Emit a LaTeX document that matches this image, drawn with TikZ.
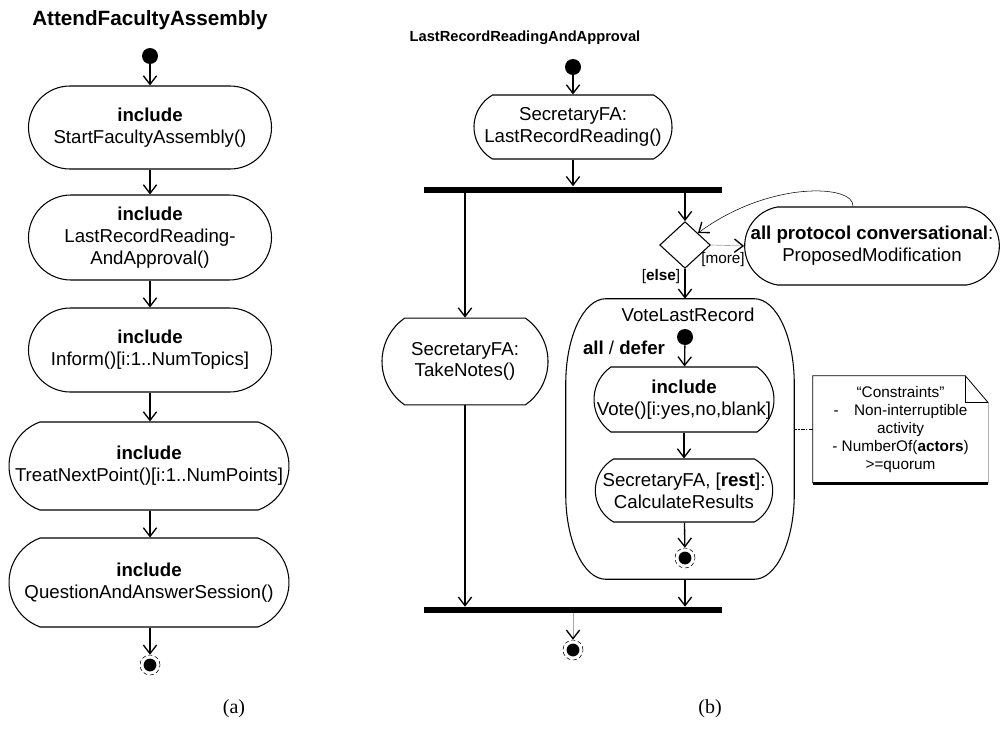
\documentclass[tikz,border=0pt]{standalone}
\usepackage{fontspec}
\setmainfont{Liberation Sans}
\newfontfamily\capfont{Liberation Serif}
\usetikzlibrary{arrows.meta,shapes.misc,shapes.geometric,calc}
\begin{document}
\begin{tikzpicture}[x=0.75pt,y=-0.75pt,
  every node/.style={inner sep=0pt},
  body/.style={font=\fontsize{14}{16.3}\selectfont},
  small/.style={font=\fontsize{11.5}{13.5}\selectfont},
  txt/.style={body, align=center},
  action/.style={draw, line width=0.8pt, rounded rectangle,
    rounded rectangle arc length=#1},
  action/.default=180,
  tip/.style={-{Straight Barb[length=6.5pt,width=10pt,line width=1pt,color=black]}},
  flow/.style={line width=1pt, tip},
  thinflow/.style={line width=0.5pt, draw=gray!70, tip},
  bar/.style={fill=black, rectangle, minimum width=223.5pt, minimum height=4.5pt},
  startnode/.style={circle, fill=black, minimum size=12pt},
  endnode/.style={circle, draw, densely dashed, line width=0.4pt, minimum size=15pt,
    path picture={\fill (path picture bounding box.center) circle (4.8pt);}},
]
\useasboundingbox (0,0) rectangle (1006,742);

% ---------------- (a) AttendFacultyAssembly ----------------
\node[font=\fontsize{15.5}{18}\selectfont\bfseries] (ttlA) at (150,20) {AttendFacultyAssembly};
\node[startnode] (a0) at (150,56) {};
\node[action, minimum width=182.25pt, minimum height=62.25pt,
  label={[txt]center:{\textbf{include}\\StartFacultyAssembly()}}] (a1) at (150,127.5) {};
\node[action, minimum width=182.25pt, minimum height=63.75pt,
  label={[txt]center:{\textbf{include}\\LastRecordReading-\\AndApproval()}}] (a2) at (150,237.5) {};
\node[action, minimum width=182.25pt, minimum height=63pt,
  label={[txt]center:{\textbf{include}\\Inform()[i:1..NumTopics]}}] (a3) at (150,350) {};
\node[action=140, minimum width=210pt, minimum height=66pt,
  label={[txt]center:{\textbf{include}\\TreatNextPoint()[i:1..NumPoints]}}] (a4) at (149,466) {};
\node[action=140, minimum width=210pt, minimum height=66.75pt,
  label={[txt]center:{\textbf{include}\\QuestionAndAnswerSession()}}] (a5) at (149,582.5) {};
\node[endnode] (af) at (150,665) {};

\draw[flow] (a0) -- (a1);
\draw[flow] (a1) -- (a2);
\draw[flow] (a2) -- (a3);
\draw[flow] (a3.south) -- (a3.south |- a4.north);
\draw[flow] (a4.south -| a3) -- (a3 |- a5.north);
\draw[flow] (a5.south -| a3) -- (af);

% ---------------- (b) LastRecordReadingAndApproval ----------------
\node[font=\fontsize{11}{14}\selectfont\bfseries] (ttlB) at (525,38) {LastRecordReadingAndApproval};
\node[startnode] (r0) at (573,67) {};
\node[action=120, minimum width=148.5pt, minimum height=48pt,
  label={[txt]center:{SecretaryFA:\\LastRecordReading()}}] (r1) at (573,127) {};
\node[bar] (fork) at (573,189.5) {};
\node[action=110, minimum width=124.5pt, minimum height=65pt,
  label={[txt]center:{SecretaryFA:\\TakeNotes()}}] (t) at (465,361.5) {};
\node[diamond, draw, line width=0.8pt, minimum width=38pt, minimum height=35pt] (d) at (685,245) {};
\node[action=160, minimum width=191pt, minimum height=58.5pt,
  label={[txt]center:{\textbf{all protocol conversational}:\\ProposedModification}}] (pm) at (872,246) {};

% region VoteLastRecord
\node[rectangle, minimum width=171pt, minimum height=210pt] (V) at (680,439) {};
\draw[line width=0.8pt]
  ([xshift=30pt]V.north west) -- ([xshift=-30pt]V.north east)
  arc[start angle=90, end angle=0, x radius=30pt, y radius=63.75pt]
  -- ([yshift=63.75pt]V.south east)
  arc[start angle=0, end angle=-90, x radius=30pt, y radius=63.75pt]
  -- ([xshift=30pt]V.south west)
  arc[start angle=270, end angle=180, x radius=30pt, y radius=63.75pt]
  -- ([yshift=-63.75pt]V.north west)
  arc[start angle=180, end angle=90, x radius=30pt, y radius=63.75pt] -- cycle;
\node[body] (vname) at (688,315) {VoteLastRecord};
\node[body] (vdefer) at (624,348) {\textbf{all} / \textbf{defer}};
\node[startnode] (v0) at (685,337) {};
\node[action=110, minimum width=135pt, minimum height=48.75pt,
  label={[txt]center:{\textbf{include}\\Vote()[i:yes,no,blank]}}] (vote) at (684,399.5) {};
\node[action=120, minimum width=133pt, minimum height=47.25pt,
  label={[txt]center:{SecretaryFA, [\textbf{rest}]:\\CalculateResults}}] (calc) at (684,490.5) {};
\node[endnode] (vf) at (685,558) {};

\node[bar] (join) at (573,610) {};
\node[endnode] (rf) at (573,650) {};

% constraints note
\node[rectangle, minimum width=131.25pt, minimum height=80.25pt, small, align=center]
  (note) at (900.5,429.5)
  {“Constraints”\\-\quad Non-interruptible\\activity\\- NumberOf(\textbf{actors})\\>=quorum};
\draw[line width=0.6pt] (note.south west) -- (note.north west)
  -- ([xshift=-17.25pt]note.north east) -- ([yshift=-20.25pt]note.north east);
\draw[line width=0.6pt] ([xshift=-17.25pt]note.north east)
  -- ([xshift=-17.25pt,yshift=-20.25pt]note.north east) -- ([yshift=-20.25pt]note.north east);
\draw[line width=0.6pt, draw=gray!60] ([yshift=-20.25pt]note.north east) -- (note.south east);
\draw[line width=2pt] (note.south west) -- (note.south east);
\draw[line width=0.9pt, densely dash dot] (note.west) -- (note.west -| V.east);

% flows of (b)
\draw[flow] (r0) -- (r1);
\draw[flow] (r1) -- (r1 |- fork.north);
\draw[flow] (fork.south -| t) -- (t);
\draw[flow] (t) -- (t |- join.north);
\draw[flow] (fork.south -| d) -- (d);
\draw[flow] (d) -- (d |- V.north);
\draw[flow] (d |- V.south) -- (d |- join.north);
\draw[flow] (v0) -- (vote);
\draw[flow] (vote) -- (calc);
\draw[flow] (calc) -- (vf);
\draw[thinflow] (join.south) -- (rf);
\draw[thinflow] (d.east) -- (pm.west);
\draw[line width=0.4pt, tip]
  ($(pm.north)+(-19,0)$) .. controls ($(pm.north)+(-17,-22)$) and (770,180) .. (d.north east);
\node[small] (more) at (723,260) {[more]};
\node[small] (else) at (661,277) {[\textbf{else}]};

% captions
\node[font=\capfont\fontsize{15}{18}\selectfont] (capA) at (234,709) {(a)};
\node[font=\capfont\fontsize{15}{18}\selectfont] (capB) at (710,709) {(b)};
\end{tikzpicture}
\end{document}
